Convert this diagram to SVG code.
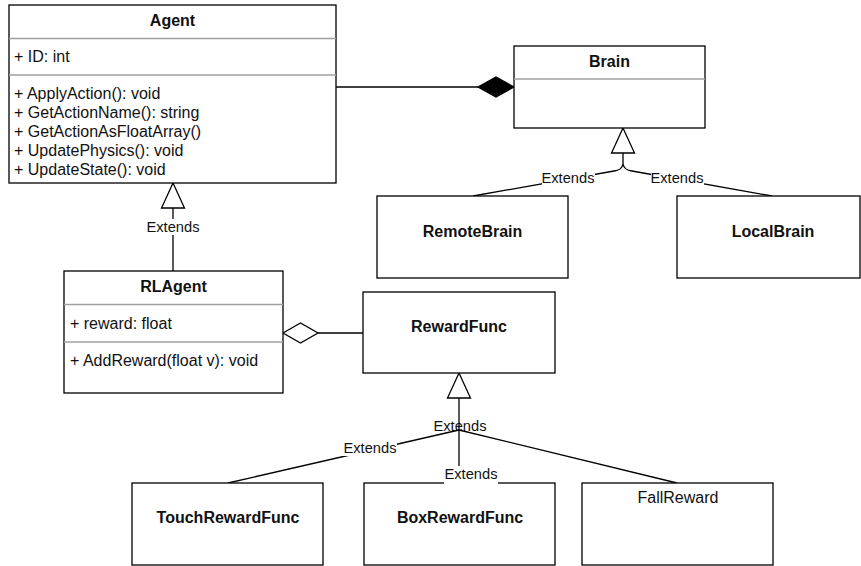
<svg xmlns="http://www.w3.org/2000/svg" width="861" height="566" viewBox="0 0 861 566">
<style>
.box{fill:#fff;stroke:#000;stroke-width:1.3}
.div{stroke:#a0a0a0;stroke-width:1.3}
.t{font-family:"Liberation Sans",Arial,sans-serif;font-size:16px;fill:#111}
.b{font-weight:bold;text-anchor:middle}
.c{text-anchor:middle}
.lbl{font-family:"Liberation Sans",Arial,sans-serif;font-size:14.67px;fill:#111;text-anchor:middle}
.e{fill:none;stroke:#000;stroke-width:1.3}
.bg{fill:#fff}
</style>
<rect width="861" height="566" fill="#fff"/>
<g id="connectors">
  <!-- composition Agent - Brain -->
  <line class="e" x1="336" y1="87" x2="478" y2="87"/>
  <polygon points="478,87 496,77 514,87 496,97" fill="#000" stroke="#000" stroke-width="1.3"/>
  <!-- aggregation RLAgent - RewardFunc -->
  <line class="e" x1="318" y1="333" x2="363" y2="333"/>
  <polygon points="283,333 300.5,323 318,333 300.5,343" fill="#fff" stroke="#000" stroke-width="1.3"/>
  <!-- RLAgent extends Agent -->
  <line class="e" x1="173" y1="208" x2="173" y2="271"/>
  <polygon points="173,183 161.5,208 184.5,208" fill="#fff" stroke="#000" stroke-width="1.3"/>
  <rect class="bg" x="146" y="219" width="54" height="16"/>
  <text class="lbl" x="173" y="232">Extends</text>
  <!-- Brain generalization -->
  <path class="e" d="M623,153 L623,164 Q622,170 614,171 L473,196"/>
  <path class="e" d="M623,164 Q624,170 632,171 L772,196"/>
  <polygon points="623,128 611.5,153 634.5,153" fill="#fff" stroke="#000" stroke-width="1.3"/>
  <rect class="bg" x="542" y="170" width="53" height="15"/>
  <text class="lbl" x="568" y="183">Extends</text>
  <rect class="bg" x="651" y="170" width="53" height="15"/>
  <text class="lbl" x="677" y="183">Extends</text>
  <!-- RewardFunc generalization -->
  <text class="lbl" x="460" y="431">Extends</text>
  <line class="e" x1="459" y1="398" x2="459" y2="430"/>
  <line class="e" x1="459" y1="430" x2="228" y2="483"/>
  <line class="e" x1="459" y1="430" x2="459" y2="483"/>
  <line class="e" x1="459" y1="430" x2="677" y2="483"/>
  <polygon points="459,373 447.5,398 470.5,398" fill="#fff" stroke="#000" stroke-width="1.3"/>
  <rect class="bg" x="343" y="440" width="54" height="16"/>
  <text class="lbl" x="370" y="453">Extends</text>
</g>
<g id="Agent">
  <rect class="box" x="9" y="5" width="327" height="178"/>
  <line class="div" x1="9" y1="38.5" x2="336" y2="38.5"/>
  <line class="div" x1="9" y1="75" x2="336" y2="75"/>
  <text class="t b" x="172.5" y="26">Agent</text>
  <text class="t" x="14" y="62">+ ID: int</text>
  <text class="t" x="14" y="99">+ ApplyAction(): void</text>
  <text class="t" x="14" y="118">+ GetActionName(): string</text>
  <text class="t" x="14" y="137">+ GetActionAsFloatArray()</text>
  <text class="t" x="14" y="156">+ UpdatePhysics(): void</text>
  <text class="t" x="14" y="175">+ UpdateState(): void</text>
</g>
<g id="Brain">
  <rect class="box" x="514" y="46" width="191" height="82"/>
  <line class="div" x1="514" y1="79" x2="705" y2="79"/>
  <text class="t b" x="609.5" y="67">Brain</text>
</g>
<g id="RemoteBrain">
  <rect class="box" x="377" y="196" width="191" height="82"/>
  <text class="t b" x="472.5" y="237">RemoteBrain</text>
</g>
<g id="LocalBrain">
  <rect class="box" x="677" y="196" width="183" height="82"/>
  <text class="t b" x="773" y="237">LocalBrain</text>
</g>
<g id="RLAgent">
  <rect class="box" x="64" y="271" width="219" height="122"/>
  <line class="div" x1="64" y1="304.5" x2="283" y2="304.5"/>
  <line class="div" x1="64" y1="342" x2="283" y2="342"/>
  <text class="t b" x="173.5" y="292">RLAgent</text>
  <text class="t" x="70" y="329">+ reward: float</text>
  <text class="t" x="70" y="366">+ AddReward(float v): void</text>
</g>
<g id="RewardFunc">
  <rect class="box" x="363" y="292" width="192" height="81"/>
  <text class="t b" x="459" y="332">RewardFunc</text>
</g>
<g id="TouchRewardFunc">
  <rect class="box" x="132" y="483" width="191" height="82"/>
  <text class="t b" x="228" y="523">TouchRewardFunc</text>
</g>
<g id="BoxRewardFunc">
  <rect class="box" x="364" y="483" width="191" height="82"/>
  <rect class="bg" x="444" y="466" width="54" height="16"/>
  <rect class="bg" x="444" y="481" width="54" height="4"/>
  <text class="lbl" x="471" y="479">Extends</text>
  <text class="t b" x="460" y="523">BoxRewardFunc</text>
</g>
<g id="FallReward">
  <rect class="box" x="582" y="483" width="191" height="82"/>
  <text class="t c" x="678" y="503">FallReward</text>
</g>
</svg>
